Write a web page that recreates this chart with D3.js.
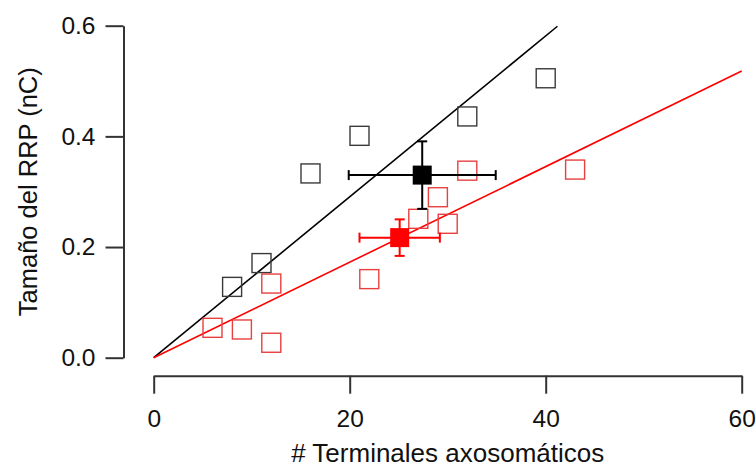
<!DOCTYPE html>
<html>
<head>
<meta charset="utf-8">
<script src="https://cdn.jsdelivr.net/npm/d3@7"></script>
<style>
  html, body { margin: 0; padding: 0; background: #fff; }
  svg { display: block; }
  text { font-family: "Liberation Sans", Arial, sans-serif; fill: #111; }
</style>
</head>
<body>
<svg id="chart" width="756" height="469"></svg>
<script>
// ---- data ----
const blackX = [8, 11, 16, 21, 32, 40];
const blackY = [0.128, 0.171, 0.333, 0.401, 0.436, 0.505];
const redX = [6, 9, 12, 12, 22, 27, 29, 30, 32, 43];
const redY = [0.054, 0.051, 0.027, 0.134, 0.142, 0.251, 0.290, 0.242, 0.338, 0.340];
const blackMean = [27.4, 0.330];
const blackErr = [7.5, 0.061];
const redMean = [25.1, 0.217];
const redErr = [4.1, 0.033];
const blackFit = [[0, 0], [41.2, 0.599]];
const redFit = [[0, 0], [60, 0.518]];
const xTicks = [0, 20, 40, 60];
const yTicks = [0.0, 0.2, 0.4, 0.6];
const xTitle = "# Terminales axosomáticos";
const yTitle = "Tamaño del RRP (nC)";

// ---- layout ----
const svg = d3.select("#chart");
const x = d3.scaleLinear().domain([0, 60]).range([153.7, 741.7]);
const y = d3.scaleLinear().domain([0, 0.6]).range([357.7, 25.7]);
const yAxisX = 123.5, xAxisY = 375.7;
const axisColor = "#333";

// axes
const gx = svg.append("g").attr("transform", `translate(0,${xAxisY})`)
  .call(d3.axisBottom(x).tickValues(xTicks).tickFormat(d3.format("d"))
    .tickSize(18).tickSizeOuter(0).tickPadding(16));
const gy = svg.append("g").attr("transform", `translate(${yAxisX},0)`)
  .call(d3.axisLeft(y).tickValues(yTicks).tickFormat(d3.format(".1f"))
    .tickSize(18).tickSizeOuter(0).tickPadding(10));
[gx, gy].forEach(g => {
  g.selectAll("path, line").attr("stroke", axisColor).attr("stroke-width", 2);
  g.selectAll("text").attr("font-size", 24.5).attr("fill", "#111")
    .attr("font-family", '"Liberation Sans", Arial, sans-serif');
});

// titles
svg.append("text").attr("x", (x(0) + x(60)) / 2).attr("y", 462)
  .attr("text-anchor", "middle").attr("font-size", 26).text(xTitle);
svg.append("text").attr("transform", `translate(37,${(y(0) + y(0.6)) / 2}) rotate(-90)`)
  .attr("text-anchor", "middle").attr("font-size", 25.5).text(yTitle);

// fit lines
const line = d3.line().x(d => x(d[0])).y(d => y(d[1]));
svg.append("path").datum(blackFit).attr("d", line)
  .attr("stroke", "#000").attr("stroke-width", 1.6).attr("fill", "none");
svg.append("path").datum(redFit).attr("d", line)
  .attr("stroke", "#f00").attr("stroke-width", 1.6).attr("fill", "none");

// open squares
const sq = 19;
function squares(xs, ys, color) {
  svg.append("g").selectAll("rect").data(xs.map((v, i) => [v, ys[i]])).join("rect")
    .attr("x", d => x(d[0]) - sq / 2).attr("y", d => y(d[1]) - sq / 2)
    .attr("width", sq).attr("height", sq)
    .attr("fill", "none").attr("stroke", color).attr("stroke-width", 1.4);
}
squares(blackX, blackY, "#3a3a3a");
squares(redX, redY, "#e8403f");

// means with error bars
function meanMark(m, e, color) {
  const g = svg.append("g").attr("stroke", color).attr("stroke-width", 2);
  const cx = x(m[0]), cy = y(m[1]);
  const cap = 5;
  g.append("line").attr("x1", x(m[0] - e[0])).attr("x2", x(m[0] + e[0])).attr("y1", cy).attr("y2", cy);
  g.append("line").attr("y1", y(m[1] - e[1])).attr("y2", y(m[1] + e[1])).attr("x1", cx).attr("x2", cx);
  g.append("line").attr("x1", x(m[0] - e[0])).attr("x2", x(m[0] - e[0])).attr("y1", cy - cap).attr("y2", cy + cap);
  g.append("line").attr("x1", x(m[0] + e[0])).attr("x2", x(m[0] + e[0])).attr("y1", cy - cap).attr("y2", cy + cap);
  g.append("line").attr("y1", y(m[1] - e[1])).attr("y2", y(m[1] - e[1])).attr("x1", cx - cap).attr("x2", cx + cap);
  g.append("line").attr("y1", y(m[1] + e[1])).attr("y2", y(m[1] + e[1])).attr("x1", cx - cap).attr("x2", cx + cap);
  svg.append("rect").attr("x", cx - 9.5).attr("y", cy - 9.5).attr("width", 19).attr("height", 19)
    .attr("fill", color);
}
meanMark(blackMean, blackErr, "#000");
meanMark(redMean, redErr, "#f00");
</script>
</body>
</html>
